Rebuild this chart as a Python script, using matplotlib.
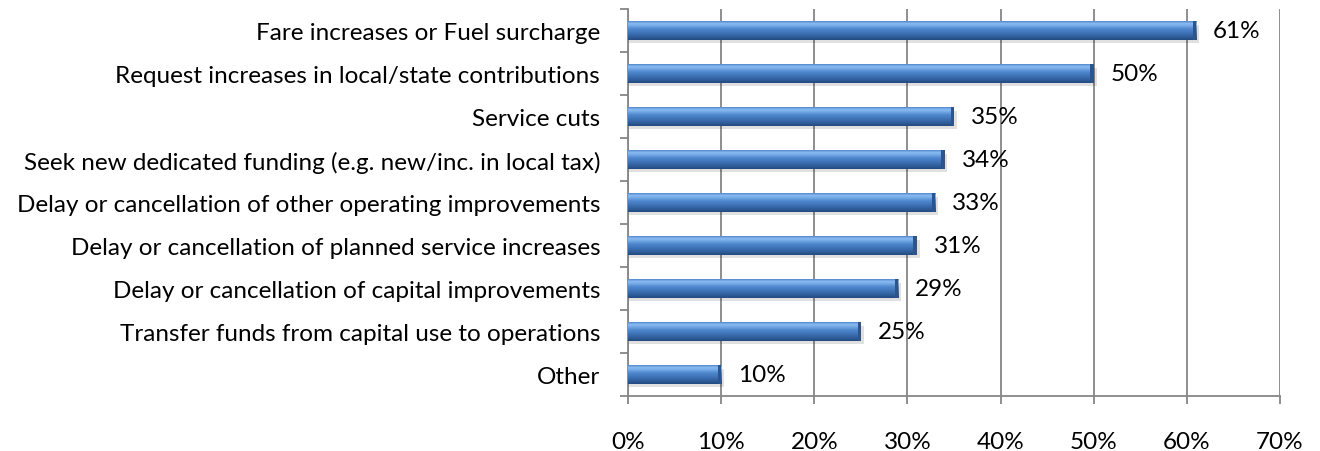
import numpy as np
import matplotlib.pyplot as plt
from matplotlib.colors import LinearSegmentedColormap

categories = [
    'Fare increases or Fuel surcharge',
    'Request increases in local/state contributions',
    'Service cuts',
    'Seek new dedicated funding (e.g. new/inc. in local tax)',
    'Delay or cancellation of other operating improvements',
    'Delay or cancellation of planned service increases',
    'Delay or cancellation of capital improvements',
    'Transfer funds from capital use to operations',
    'Other',
]
values = [61, 50, 35, 34, 33, 31, 29, 25, 10]
xticks = [0, 10, 20, 30, 40, 50, 60, 70]

plt.rcParams['font.family'] = ['Lato', 'DejaVu Sans']

fig = plt.figure(figsize=(13.2, 4.52), dpi=100)
ax = fig.add_axes([628 / 1320, 55 / 452, 652 / 1320, 387 / 452])

# degrade vertical du cylindre (haut -> bas)
cyl = LinearSegmentedColormap.from_list('cyl', [
    (0.0, '#5287cc'), (0.12, '#8abcf2'), (0.22, '#7aaee8'),
    (0.4, '#5089d0'), (0.7, '#3a6cae'), (1.0, '#234a80')])
grad = np.linspace(0, 1, 64).reshape(-1, 1)

y = np.arange(len(categories))
h = 0.42
for yi, v in zip(y, values):
    # ombre sous la barre
    ax.barh(yi + 0.08, v + 0.3, height=h, color='#000000', alpha=0.12,
            zorder=2, linewidth=0)
    ax.imshow(grad, cmap=cyl, aspect='auto', interpolation='bilinear',
              extent=(0, v, yi + h / 2, yi - h / 2), zorder=3)
    ax.barh(yi, 0.35, left=v - 0.35, height=h, color='#2a5590', zorder=4,
            linewidth=0)
    ax.text(v + 1.8, yi, f'{v}%', va='center', ha='left', fontsize=17.5,
            color='#000000', zorder=5)

ax.set_xlim(0, 70)
ax.set_ylim(len(categories) - 0.5, -0.5)

ax.set_xticks(xticks)
ax.set_xticklabels([f'{t}%' for t in xticks])
ax.set_yticks(y)
ax.set_yticklabels(categories)
ax.set_yticks(np.arange(len(categories) + 1) - 0.5, minor=True)

gray = '#868686'
ax.grid(axis='x', color=gray, linewidth=1.3, zorder=1)
ax.set_axisbelow(True)
for s in ['top', 'right']:
    ax.spines[s].set_visible(False)
for s in ['left', 'bottom']:
    ax.spines[s].set_color(gray)
    ax.spines[s].set_linewidth(1.3)

ax.tick_params(axis='x', direction='out', length=6, width=1.3, color=gray,
               pad=19, labelsize=17.5)
ax.tick_params(axis='y', which='major', length=0, pad=20, labelsize=17.5)
ax.tick_params(axis='y', which='minor', direction='out', length=6, width=1.3,
               color=gray)

plt.savefig('out.png', dpi=100)
